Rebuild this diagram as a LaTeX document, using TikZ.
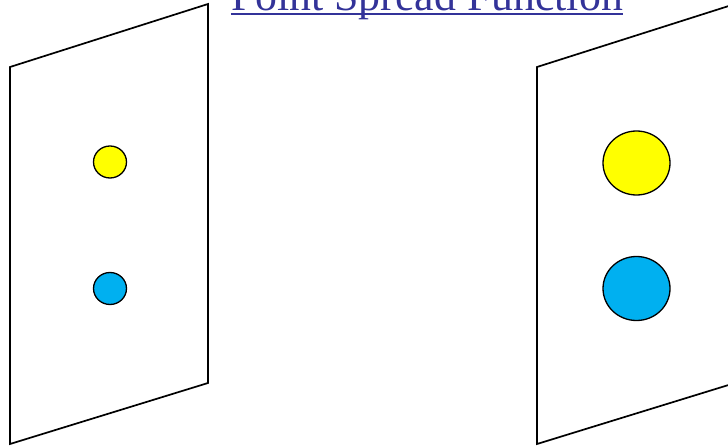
\documentclass[tikz,border=0pt]{standalone}
\usepackage{fontspec}
\setmainfont{Liberation Serif}
\usetikzlibrary{shapes.geometric}
\definecolor{titleblue}{RGB}{51,51,153}
\definecolor{dotyellow}{RGB}{255,255,0}
\definecolor{dotblue}{RGB}{0,176,240}
\tikzset{
  panel/.style={draw=black, line width=1.7pt, line join=miter},
  dot/.style={ellipse, draw=black, line width=1.3pt, inner sep=0pt},
  smalldot/.style={dot, minimum width=33pt, minimum height=32pt},
  bigdot/.style={dot, minimum width=67pt, minimum height=64pt},
}
\begin{document}
\begin{tikzpicture}[x=1pt, y=-1pt]
\useasboundingbox (0,0) rectangle (728,446);
\clip (0,0) rectangle (728,446);
% title
\node[anchor=base, inner sep=0pt, text=titleblue, font=\fontsize{43.8}{50}\selectfont] (title) at (427,11) {Point Spread Function};
\draw[titleblue, line width=1.6pt] ([yshift=-2.8pt]title.base west) -- ([yshift=-2.8pt]title.base east);
% left panel
\draw[panel] (10,67) -- (208,4) -- (208,383) -- (10,444) -- cycle;
% right panel
\draw[panel] (537,67) -- (735,4) -- (735,383) -- (537,444) -- cycle;
% left dots
\node[smalldot, fill=dotyellow] (ly) at (110,162) {};
\node[smalldot, fill=dotblue] (lb) at (110,288.5) {};
% right dots
\node[bigdot, fill=dotyellow] (ry) at (636.5,163) {};
\node[bigdot, fill=dotblue] (rb) at (636.5,288.5) {};
\end{tikzpicture}
\end{document}
